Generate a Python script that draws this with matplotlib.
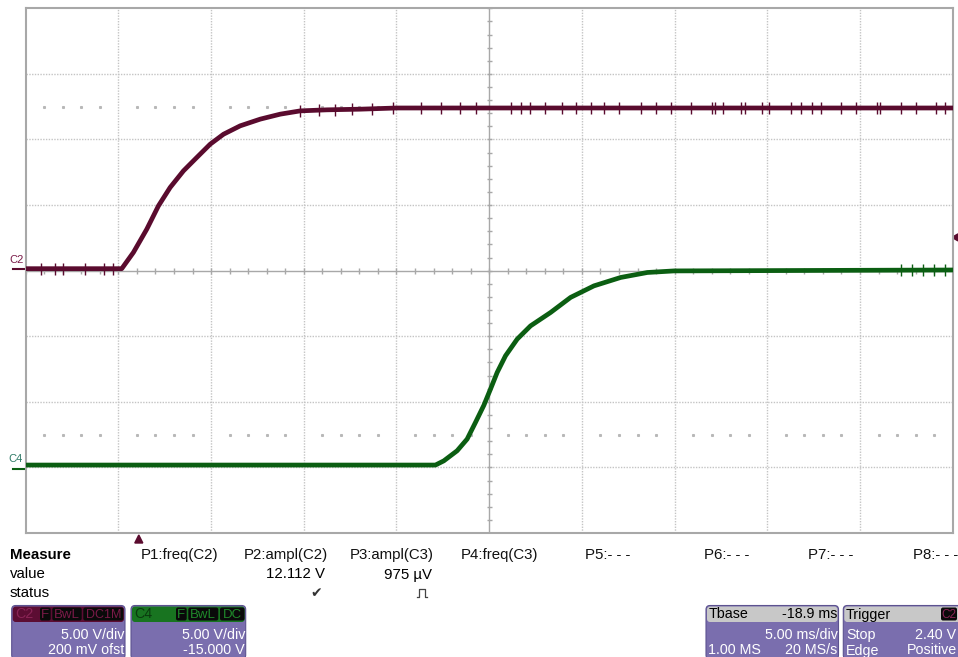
import matplotlib
matplotlib.use("Agg")
import matplotlib.pyplot as plt
from matplotlib.patches import FancyBboxPatch, Polygon
import numpy as np

plt.rcParams['font.family'] = ['Liberation Sans', 'DejaVu Sans']

# ---- trace data (time in ms from left edge, volts) ----
c2_t = [0.0, 5.18, 5.81, 6.53, 7.16, 7.79, 8.51, 9.23, 9.95, 10.67, 11.57,
        12.65, 13.73, 14.81, 16.25, 18.05, 20.0, 50.0]
c2_v = [-0.05, -0.05, 1.19, 2.96, 4.74, 6.14, 7.41, 8.43, 9.44, 10.20, 10.84,
        11.35, 11.73, 11.98, 12.06, 12.11, 12.2, 12.2]

c4_t = [0.0, 22.1, 22.55, 23.27, 23.81, 24.26, 24.71, 25.07, 25.43, 25.88,
        26.51, 27.23, 28.31, 29.39, 30.65, 32.09, 33.53, 34.97, 50.0]
c4_v = [0.18, 0.18, 0.50, 1.27, 2.16, 3.43, 4.73, 5.97, 7.24, 8.51, 9.78,
        10.79, 11.81, 12.96, 13.84, 14.48, 14.86, 14.98, 15.05]

# noise spikes seen on the flat parts of the traces (ms)
c2_spikes = [0.8, 1.6, 2.0, 3.2, 4.2, 4.7, 14.8, 15.8, 16.7, 17.6, 18.7, 19.8,
             21.3, 22.4, 23.4, 24.3, 26.2, 26.7, 27.2, 28.0, 28.9, 29.7, 30.5,
             31.2, 32.0, 33.2, 34.0, 34.8, 35.9, 37.0, 37.2, 37.6, 38.6, 38.8,
             39.7, 40.1, 41.3, 41.8, 42.4, 42.9, 44.0, 44.8, 45.9, 46.1, 47.2,
             48.0, 49.1, 49.6]
c4_spikes = [47.2, 47.8, 48.4, 49.0, 49.6]

c2_scale, c2_ofst = 5.0, 0.2
c4_scale, c4_ofst = 5.0, -15.0
trig_time = 6.1
trig_level = 2.40

# ---- measurement panel text ----
meas_heads = ["P1:freq(C2)", "P2:ampl(C2)", "P3:ampl(C3)", "P4:freq(C3)",
              "P5:- - -", "P6:- - -", "P7:- - -", "P8:- - -"]
meas_head_x = [141, 244, 350, 461, 585, 704, 808, 913]
meas_values = ["", "12.112 V", "975 µV", ""]
meas_value_x = [0, 325, 432, 0]

C2_COL = '#5a0b2e'
C4_COL = '#0b5e12'
PURPLE = '#7a6eae'
GRID = '#c4c4c4'
AXCOL = '#a8a8a8'

fig = plt.figure(figsize=(9.58, 6.57), dpi=100)
fig.patch.set_facecolor('white')

ov = fig.add_axes([0, 0, 1, 1])
ov.set_xlim(0, 958)
ov.set_ylim(657, 0)
ov.axis('off')

# ---- scope graticule ----
L, R, T, B = 25.7, 952.7, 8.3, 533.0
ax = fig.add_axes([L / 958, 1 - B / 657, (R - L) / 958, (B - T) / 657])
ax.set_xlim(0, 50)
ax.set_ylim(-4, 4)
ax.set_xticks([])
ax.set_yticks([])
for s in ax.spines.values():
    s.set_color(AXCOL)
    s.set_linewidth(1.5)

for gx in np.arange(5, 50, 5):
    if gx != 25:
        ax.axvline(gx, color=GRID, lw=1, ls=(0, (1, 1)), zorder=1)
for gy in range(-3, 4):
    if gy != 0:
        ax.axhline(gy, color=GRID, lw=1, ls=(0, (1, 1)), zorder=1)

ax.axhline(0, color=AXCOL, lw=1, zorder=1)
ax.axvline(25, color=AXCOL, lw=1, zorder=1)
tx = np.arange(0, 50.01, 1.0)
ax.vlines(tx, -0.045, 0.045, color=AXCOL, lw=1, zorder=1)
ty = np.arange(-4, 4.01, 0.2)
ax.hlines(ty, 24.86, 25.14, color=AXCOL, lw=1, zorder=1)

dx = np.array([t for t in np.arange(1, 50, 1.0) if t % 5 != 0])
for yy in (2.5, -2.5):
    ax.plot(dx, np.full(len(dx), yy), ls='none', marker='s', ms=1.2,
            color='#b8b8b8', zorder=1)

# ---- traces ----
c2_div = (np.array(c2_v) + c2_ofst) / c2_scale
c4_div = (np.array(c4_v) + c4_ofst) / c4_scale
ax.plot(c2_t, c2_div, color=C2_COL, lw=3.4, solid_joinstyle='round', zorder=4)
ax.plot(c4_t, c4_div, color=C4_COL, lw=3.4, solid_joinstyle='round', zorder=4)

c2_lvl = np.interp(c2_spikes, c2_t, c2_div)
ax.vlines(c2_spikes, c2_lvl - 0.09, c2_lvl + 0.09, color=C2_COL, lw=1, zorder=4)
c4_lvl = np.interp(c4_spikes, c4_t, c4_div)
ax.vlines(c4_spikes, c4_lvl - 0.09, c4_lvl + 0.09, color=C4_COL, lw=1, zorder=4)

# ---- channel markers outside the grid ----
ov.text(9, 260, "C2", color='#7a1a48', fontsize=8, ha='left', va='center')
ov.plot([13, 26], [268.5, 268.5], color=C2_COL, lw=1.5)
ov.text(8, 459, "C4", color='#2e7a66', fontsize=8, ha='left', va='center')
ov.plot([13, 26], [469, 469], color=C4_COL, lw=1.5)

trig_px = 271.5 - (trig_level + c2_ofst) / c2_scale * 65.6
ov.add_patch(Polygon([[952, trig_px], [958, trig_px - 3.5], [958, trig_px + 3.5]],
                     closed=True, color=C2_COL))
tpx = L + trig_time / 50 * (R - L)
ov.add_patch(Polygon([[tpx - 4, 543], [tpx + 4, 543], [tpx, 535]],
                     closed=True, color=C2_COL))

# ---- measure table ----
FS = 10.8
BFS = 10.3
ov.text(10, 555, "Measure", fontsize=FS, fontweight='bold', va='center')
ov.text(10, 574.5, "value", fontsize=FS, va='center')
ov.text(10, 593, "status", fontsize=FS, va='center')
for h, x in zip(meas_heads, meas_head_x):
    ov.text(x, 555, h, fontsize=FS, va='center', ha='left', color='#111111')
for v, x in zip(meas_values, meas_value_x):
    if v:
        ov.text(x, 574.5, v, fontsize=FS, va='center', ha='right')
ov.text(316, 593, "✔", fontsize=10, va='center', ha='center', color='#333333',
        family='DejaVu Sans')
ov.plot([417, 419, 419, 425, 425, 427], [597, 597, 589, 589, 597, 597],
        color='#444444', lw=0.9)


def panel(x0, x1, head_col, y0=605.5, y1=659):
    ov.add_patch(FancyBboxPatch((x0, y0), x1 - x0, y1 - y0,
                                boxstyle="round,pad=0,rounding_size=4",
                                fc=PURPLE, ec='#5c5290', lw=0.8))
    ov.add_patch(FancyBboxPatch((x0 + 1, y0 + 1), x1 - x0 - 2, 15.5,
                                boxstyle="round,pad=0,rounding_size=3",
                                fc=head_col, ec='none'))


def badge(x0, x1, text, col, fs=9.5):
    ov.add_patch(FancyBboxPatch((x0, 607.5), x1 - x0, 13,
                                boxstyle="round,pad=0,rounding_size=2",
                                fc='#0a0a0a', ec='none'))
    ov.text((x0 + x1) / 2, 614.5, text, fontsize=fs, color=col,
            ha='center', va='center')


# C2 box
panel(11.7, 125, '#5c0d33')
ov.text(15, 614.5, "C2", fontsize=BFS, color='#8a2456', va='center')
badge(40, 50.7, "F", '#7a1a48')
badge(52.3, 81.7, "BwL", '#7a1a48')
badge(83.3, 123.3, "DC1M", '#7a1a48', fs=9)
ov.text(124, 635, "5.00 V/div", fontsize=BFS, color='white', ha='right', va='center')
ov.text(124, 650.5, "200 mV ofst", fontsize=BFS, color='white', ha='right', va='center')

# C4 box
panel(131, 245.7, '#187420')
ov.text(134, 614.5, "C4", fontsize=BFS, color='#0a3a0e', va='center')
badge(176, 186.7, "F", '#1f8a2a')
badge(188.3, 218.3, "BwL", '#1f8a2a')
badge(220, 244.5, "DC", '#1f8a2a')
ov.text(245, 635, "5.00 V/div", fontsize=BFS, color='white', ha='right', va='center')
ov.text(245, 650.5, "-15.000 V", fontsize=BFS, color='white', ha='right', va='center')

# Tbase box
panel(706, 838.5, '#c8c8c8')
ov.text(709, 614.5, "Tbase", fontsize=BFS, va='center')
ov.text(837.5, 614.5, "-18.9 ms", fontsize=BFS, va='center', ha='right')
ov.text(837.5, 635, "5.00 ms/div", fontsize=BFS, color='white', ha='right', va='center')
ov.text(708, 650.5, "1.00 MS", fontsize=BFS, color='white', ha='left', va='center')
ov.text(837.5, 650.5, "20 MS/s", fontsize=BFS, color='white', ha='right', va='center')

# Trigger box
panel(843.3, 962, '#c8c8c8')
ov.text(846, 614.5, "Trigger", fontsize=BFS, va='center')
badge(941, 957, "C2", '#8a2456', fs=8.5)
ov.text(846, 635, "Stop", fontsize=BFS, color='white', ha='left', va='center')
ov.text(956, 635, "2.40 V", fontsize=BFS, color='white', ha='right', va='center')
ov.text(846, 650.5, "Edge", fontsize=BFS, color='white', ha='left', va='center')
ov.text(957, 650.5, "Positive", fontsize=BFS, color='white', ha='right', va='center')

fig.savefig("out.png", dpi=100)
